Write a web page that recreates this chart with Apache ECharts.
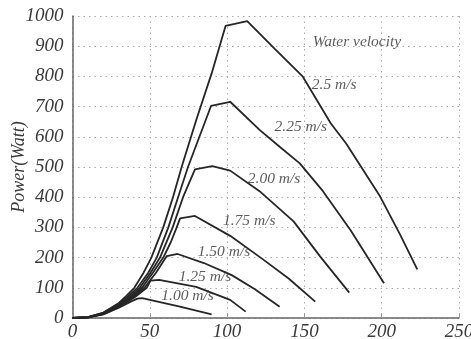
<!DOCTYPE html>
<html>
<head>
<meta charset="utf-8">
<script src="https://cdn.jsdelivr.net/npm/echarts@6/dist/echarts.min.js"></script>
<style>
html,body{margin:0;padding:0;background:#fff;}
#chart{width:471px;height:339px;}
</style>
</head>
<body>
<div id="chart"></div>
<script>
// Rotational speed (x) vs power in Watt (y) for each water velocity
const v100 = [[0,0],[10,2],[20,12],[30,34],[38,55],[42,64],[45,66],[69.5,38],[90,12]];
const v125 = [[0,0],[10,2],[20,13],[30,37],[40,68],[48,100],[50.5,124],[56,126],[80,103],[102,60],[112,21]];
const v150 = [[0,0],[10,2],[20,14],[30,39],[40,72],[46.5,100],[54,150],[61,205],[68,212],[85,182],[103,142],[118,95],[134,37]];
const v175 = [[0,0],[10,2],[20,15],[30,41],[40,78],[45,100],[52,150],[58.7,200],[63.5,250],[67.4,300],[69.6,330],[79.2,338],[102,272],[123,195],[140,130],[157,54]];
const v200 = [[0,0],[10,2],[20,16],[30,43],[37,70],[43.5,100],[50.5,150],[56.6,200],[64.8,300],[71.5,400],[79.2,492],[90.4,503],[102,488],[121,420],[143,320],[160,205],[179,84]];
const v225 = [[0,0],[10,3],[20,17],[30,46],[36,72],[42,100],[49,150],[54.5,200],[62,300],[68.3,400],[74.7,500],[89.6,702],[102,716],[121,623],[134,567],[147,512],[162,420],[180,290],[201.5,115]];
const v250 = [[0,0],[10,3],[20,18],[30,50],[35,74],[40,100],[46,150],[51,200],[58.7,300],[65,400],[70.6,500],[80,655],[90,810],[99,967],[113,983],[131,890],[149,799],[167,645],[177,578],[188,490],[199,402],[212,275],[223,161]];

const seriesNames = ['1.00 m/s','1.25 m/s','1.50 m/s','1.75 m/s','2.00 m/s','2.25 m/s','2.5 m/s'];
const seriesData = [v100, v125, v150, v175, v200, v225, v250];

// Annotation texts placed in data coordinates
const noteTexts = ['Water velocity','2.5 m/s','2.25 m/s','2.00 m/s','1.75 m/s','1.50 m/s','1.25 m/s','1.00 m/s'];
const noteX = [184, 169.3, 147.7, 130.4, 114.3, 98, 85.7, 74.4];
const noteY = [915, 771, 633, 459, 322, 219, 135, 73];

const xTicks = [0, 50, 100, 150, 200, 250];
const yTicks = [0, 100, 200, 300, 400, 500, 600, 700, 800, 900, 1000];

const serif = '"Liberation Serif", "DejaVu Serif", serif';
const chart = echarts.init(document.getElementById('chart'));

const lineSeries = seriesData.map((d, i) => ({
  name: seriesNames[i],
  type: 'line',
  data: d,
  showSymbol: false,
  symbol: 'none',
  smooth: false,
  lineStyle: { color: '#262626', width: 1.8 },
  z: 3
}));

const noteSeries = {
  type: 'scatter',
  symbolSize: 0,
  data: noteTexts.map((t, i) => ({ value: [noteX[i], noteY[i]], name: t })),
  label: {
    show: true,
    position: 'inside',
    formatter: p => p.name,
    fontFamily: serif,
    fontStyle: 'italic',
    fontSize: 15.5,
    color: '#333'
  },
  silent: true,
  z: 4
};

chart.setOption({
  animation: false,
  backgroundColor: '#fff',
  grid: { left: 72.5, right: 12, top: 16, bottom: 21, containLabel: false, outerBoundsMode: 'none' },
  xAxis: {
    type: 'value',
    min: xTicks[0], max: xTicks[xTicks.length - 1], interval: 50,
    axisLine: { show: true, lineStyle: { color: '#666', width: 1.5 } },
    axisTick: { show: true, inside: true, length: 4, lineStyle: { color: '#999' } },
    axisLabel: { fontFamily: serif, fontStyle: 'italic', fontSize: 19, color: '#3a3a3a', margin: 4, formatter: v => String(v) },
    splitLine: { show: true, lineStyle: { color: '#aaa', type: [1.5, 4], width: 1 } }
  },
  yAxis: {
    type: 'value',
    min: yTicks[0], max: yTicks[yTicks.length - 1], interval: 100,
    name: 'Power(Watt)',
    nameLocation: 'middle',
    nameGap: 44,
    nameMoveOverlap: false,
    nameTextStyle: { fontFamily: serif, fontStyle: 'italic', fontSize: 18, color: '#3a3a3a' },
    axisLine: { show: true, lineStyle: { color: '#666', width: 1.5 } },
    axisTick: { show: false },
    axisLabel: { fontFamily: serif, fontStyle: 'italic', fontSize: 19, color: '#3a3a3a', margin: 9, formatter: v => String(v) },
    splitLine: { show: true, lineStyle: { color: '#aaa', type: [1.5, 4], width: 1 } }
  },
  series: lineSeries.concat([noteSeries])
});
</script>
</body>
</html>
